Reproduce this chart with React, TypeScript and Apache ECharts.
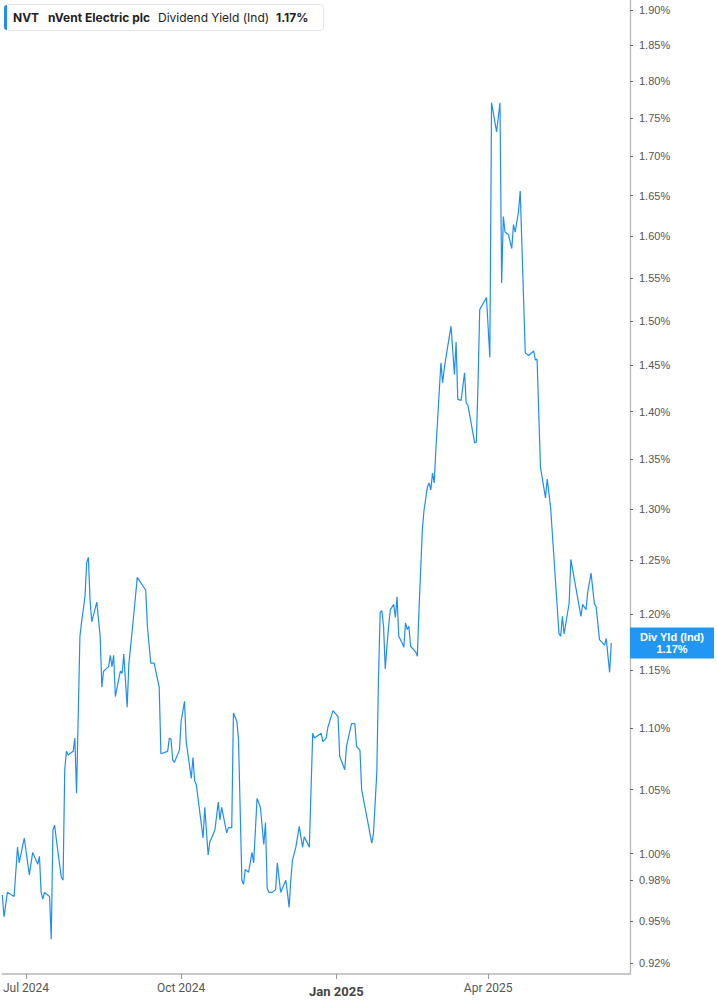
import { useEffect, useRef } from 'react';
import * as echarts from 'echarts';

// 股息率（Ind）日线，读自截图的拐点
const DATES = [
  '2024-06-17', '2024-06-18', '2024-06-20', '2024-06-24', '2024-06-26', '2024-06-27', '2024-06-30',
  '2024-07-03', '2024-07-05', '2024-07-08', '2024-07-09', '2024-07-10', '2024-07-11', '2024-07-12',
  '2024-07-15', '2024-07-16', '2024-07-17', '2024-07-18', '2024-07-19', '2024-07-22', '2024-07-23',
  '2024-07-24', '2024-07-25', '2024-07-26', '2024-07-29', '2024-07-30', '2024-07-31', '2024-08-02',
  '2024-08-03', '2024-08-05', '2024-08-06', '2024-08-07', '2024-08-08', '2024-08-09', '2024-08-12',
  '2024-08-14', '2024-08-15', '2024-08-16', '2024-08-19', '2024-08-20', '2024-08-21', '2024-08-22',
  '2024-08-23', '2024-08-25', '2024-08-26', '2024-08-27', '2024-08-28', '2024-08-30', '2024-08-31',
  '2024-09-03', '2024-09-05', '2024-09-10', '2024-09-11', '2024-09-13', '2024-09-15', '2024-09-18',
  '2024-09-19', '2024-09-23', '2024-09-24', '2024-09-25', '2024-09-26', '2024-09-27', '2024-09-30',
  '2024-10-01', '2024-10-03', '2024-10-04', '2024-10-07', '2024-10-08', '2024-10-09', '2024-10-10',
  '2024-10-14', '2024-10-15', '2024-10-17', '2024-10-18', '2024-10-21', '2024-10-23', '2024-10-24',
  '2024-10-25', '2024-10-28', '2024-10-29', '2024-10-31', '2024-11-01', '2024-11-03', '2024-11-04',
  '2024-11-06', '2024-11-07', '2024-11-08', '2024-11-10', '2024-11-12', '2024-11-13', '2024-11-15',
  '2024-11-17', '2024-11-19', '2024-11-20', '2024-11-21', '2024-11-22', '2024-11-24', '2024-11-26',
  '2024-11-27', '2024-11-29', '2024-12-02', '2024-12-03', '2024-12-04', '2024-12-05', '2024-12-06',
  '2024-12-08', '2024-12-10', '2024-12-12', '2024-12-13', '2024-12-16', '2024-12-18', '2024-12-19',
  '2024-12-23', '2024-12-24', '2024-12-26', '2024-12-27', '2024-12-30', '2025-01-02', '2025-01-03',
  '2025-01-06', '2025-01-07', '2025-01-10', '2025-01-12', '2025-01-13', '2025-01-15', '2025-01-16',
  '2025-01-19', '2025-01-22', '2025-01-23', '2025-01-25', '2025-01-26', '2025-01-27', '2025-01-28',
  '2025-01-29', '2025-01-30', '2025-01-31', '2025-02-01', '2025-02-02', '2025-02-04', '2025-02-05',
  '2025-02-06', '2025-02-07', '2025-02-09', '2025-02-10', '2025-02-11', '2025-02-12', '2025-02-13',
  '2025-02-14', '2025-02-17', '2025-02-18', '2025-02-19', '2025-02-21', '2025-02-22', '2025-02-24',
  '2025-02-25', '2025-02-26', '2025-02-27', '2025-02-28', '2025-03-01', '2025-03-04', '2025-03-05',
  '2025-03-06', '2025-03-08', '2025-03-10', '2025-03-12', '2025-03-13', '2025-03-14', '2025-03-16',
  '2025-03-18', '2025-03-19', '2025-03-20', '2025-03-24', '2025-03-25', '2025-03-26', '2025-03-27',
  '2025-03-31', '2025-04-02', '2025-04-03', '2025-04-06', '2025-04-08', '2025-04-09', '2025-04-10',
  '2025-04-11', '2025-04-13', '2025-04-15', '2025-04-16', '2025-04-17', '2025-04-19', '2025-04-20',
  '2025-04-23', '2025-04-25', '2025-04-28', '2025-04-29', '2025-04-30', '2025-05-02', '2025-05-05',
  '2025-05-06', '2025-05-08', '2025-05-13', '2025-05-14', '2025-05-15', '2025-05-16', '2025-05-19',
  '2025-05-20', '2025-05-26', '2025-05-27', '2025-05-29', '2025-05-30', '2025-06-01', '2025-06-03',
  '2025-06-04', '2025-06-06', '2025-06-09', '2025-06-10', '2025-06-12', '2025-06-13',
];

const YIELDS = [
  0.969, 0.953, 0.971, 0.968, 1.005, 0.993, 1.012,
  0.984, 1.001, 0.992, 0.998, 0.971, 0.966, 0.971,
  0.968, 0.937, 1.018, 1.022, 1.011, 0.982, 0.980,
  1.066, 1.081, 1.078, 1.081, 1.092, 1.047, 1.180,
  1.193, 1.216, 1.248, 1.253, 1.213, 1.193, 1.211,
  1.180, 1.135, 1.149, 1.153, 1.163, 1.153, 1.163,
  1.127, 1.142, 1.149, 1.147, 1.164, 1.118, 1.155,
  1.201, 1.234, 1.222, 1.189, 1.156, 1.156, 1.135,
  1.079, 1.081, 1.092, 1.091, 1.074, 1.072, 1.082,
  1.106, 1.123, 1.089, 1.059, 1.076, 1.057, 1.054,
  1.012, 1.036, 0.999, 1.009, 1.018, 1.040, 1.026,
  1.036, 1.016, 1.020, 1.020, 1.113, 1.106, 1.091,
  0.980, 0.977, 0.988, 0.986, 1.001, 0.993, 1.043,
  1.036, 1.007, 1.024, 0.974, 0.971, 0.971, 0.973,
  0.993, 0.971, 0.980, 0.971, 0.960, 0.980, 0.995,
  1.005, 1.021, 1.005, 1.013, 1.005, 1.096, 1.092,
  1.096, 1.089, 1.092, 1.101, 1.115, 1.110, 1.077,
  1.066, 1.085, 1.104, 1.104, 1.085, 1.082, 1.050,
  1.029, 1.008, 1.015, 1.064, 1.144, 1.202, 1.203,
  1.189, 1.151, 1.171, 1.189, 1.204, 1.209, 1.197,
  1.216, 1.180, 1.174, 1.170, 1.192, 1.186, 1.189,
  1.171, 1.166, 1.162, 1.204, 1.280, 1.299, 1.322,
  1.326, 1.319, 1.336, 1.326, 1.360, 1.453, 1.431,
  1.447, 1.471, 1.494, 1.440, 1.476, 1.413, 1.412,
  1.442, 1.409, 1.407, 1.367, 1.368, 1.431, 1.513,
  1.527, 1.459, 1.771, 1.732, 1.771, 1.544, 1.624,
  1.605, 1.602, 1.585, 1.614, 1.605, 1.630, 1.656,
  1.464, 1.461, 1.466, 1.456, 1.457, 1.342, 1.311,
  1.330, 1.302, 1.182, 1.180, 1.198, 1.182, 1.210,
  1.251, 1.198, 1.209, 1.204, 1.220, 1.238, 1.209,
  1.207, 1.177, 1.172, 1.178, 1.148, 1.174,
];

const Y_TICKS = [
  0.92, 0.95, 0.98, 1.0, 1.05, 1.1, 1.15, 1.2, 1.25, 1.3, 1.35, 1.4, 1.45,
  1.5, 1.55, 1.6, 1.65, 1.7, 1.75, 1.8, 1.85, 1.9,
];
const X_TICKS = ['2024-07-01', '2024-10-01', '2025-01-01', '2025-04-01'];
const MONTHS = ['Jan', 'Feb', 'Mar', 'Apr', 'May', 'Jun', 'Jul', 'Aug', 'Sep', 'Oct', 'Nov', 'Dec'];

const X_RANGE = ['2024-06-16T21:20:00Z', '2025-06-24T02:00:00Z'];
const Y_RANGE = [0.9125, 1.915];

const BLUE = '#1f8ef1';
const ts = (s: string) => new Date(s.length === 10 ? s + 'T00:00:00Z' : s).getTime();

export default function App() {
  const ref = useRef<HTMLDivElement>(null);

  useEffect(() => {
    if (!ref.current) return;
    const chart = echarts.init(ref.current, undefined, { renderer: 'svg' });
    const last = YIELDS[YIELDS.length - 1];
    const yMin = Math.log10(Y_RANGE[0]);
    const yMax = Math.log10(Y_RANGE[1]);

    chart.setOption({
      animation: false,
      backgroundColor: '#fff',
      grid: { left: 0, right: 84, top: 0, bottom: 31, containLabel: false },
      xAxis: {
        type: 'value',
        min: ts(X_RANGE[0]),
        max: ts(X_RANGE[1]),
        splitLine: { show: false },
        axisLine: { show: true, onZero: false, lineStyle: { color: '#b8b8b8', width: 1.6 } },
        axisTick: { show: true, length: 5, lineStyle: { color: '#9a9a9a' }, customValues: X_TICKS.map(ts) },
        axisLabel: {
          customValues: X_TICKS.map(ts),
          margin: 8,
          fontFamily: 'Roboto',
          fontSize: 12,
          color: '#555',
          formatter: (v: number) => {
            const d = new Date(v);
            const s = `${MONTHS[d.getUTCMonth()]} ${d.getUTCFullYear()}`;
            return d.getUTCMonth() === 0 ? `{b|${s}}` : s;
          },
          rich: { b: { fontFamily: 'Roboto', fontSize: 13, fontWeight: 'bold', color: '#444', padding: [3, 0, 0, 0] } },
        },
      },
      yAxis: [
        {
          type: 'value',
          position: 'right',
          min: yMin,
          max: yMax,
          splitLine: { show: false },
          axisLine: { show: true, onZero: false, lineStyle: { color: '#b8b8b8', width: 1.3 } },
          axisTick: { show: true, length: 3, lineStyle: { color: '#666' }, customValues: Y_TICKS.map(Math.log10) },
          axisLabel: {
            customValues: Y_TICKS.map(Math.log10),
            margin: 9,
            fontFamily: 'Liberation Sans',
            fontSize: 11,
            color: '#555',
            formatter: (v: number) => Math.pow(10, v).toFixed(2) + '%',
          },
        },
        {
          type: 'value',
          position: 'right',
          min: yMin,
          max: yMax,
          splitLine: { show: false },
          axisLine: { show: false, onZero: false },
          axisTick: { show: false },
          axisLabel: {
            customValues: [Math.log10(last)],
            margin: 42,
            align: 'center',
            width: 84,
            lineHeight: 12,
            padding: [4, 0, 3, 0],
            backgroundColor: '#2196f3',
            color: '#fff',
            fontFamily: 'Liberation Sans',
            fontSize: 11,
            fontWeight: 'bold',
            formatter: () => `Div Yld (Ind)\n${last.toFixed(2)}%`,
          },
        },
      ],
      series: [
        {
          type: 'line',
          yAxisIndex: 0,
          showSymbol: false,
          symbol: 'none',
          lineStyle: { color: BLUE, width: 1.2 },
          data: DATES.map((d, i) => [ts(d), Math.log10(YIELDS[i])]),
        },
      ],
      graphic: [
        {
          type: 'rect',
          shape: { x: 4.5, y: 4.5, width: 319, height: 26, r: 3 },
          style: { fill: '#fff', stroke: '#e4e4e4', lineWidth: 1 },
        },
        {
          type: 'rect',
          shape: { x: 4, y: 5, width: 3, height: 25, r: [3, 0, 0, 3] },
          style: { fill: BLUE },
        },
        {
          type: 'text', x: 13, y: 17,
          style: { text: 'NVT', fontFamily: 'Inter', fontSize: 12, fontWeight: 'bold', fill: '#222', verticalAlign: 'middle' },
        },
        {
          type: 'text', x: 48, y: 17,
          style: { text: 'nVent Electric plc', fontFamily: 'Inter', fontSize: 12, fontWeight: 'bold', fill: '#222', verticalAlign: 'middle' },
        },
        {
          type: 'text', x: 158, y: 17,
          style: { text: 'Dividend Yield (Ind)', fontFamily: 'Inter', fontSize: 12, fill: '#222', verticalAlign: 'middle' },
        },
        {
          type: 'text', x: 276, y: 17,
          style: { text: `${last.toFixed(2)}%`, fontFamily: 'Inter', fontSize: 12, fontWeight: 'bold', fill: '#222', verticalAlign: 'middle' },
        },
      ],
    });

    return () => chart.dispose();
  }, []);

  return <div ref={ref} style={{ position: 'fixed', left: 0, top: 0, width: 717, height: 1005 }} />;
}
